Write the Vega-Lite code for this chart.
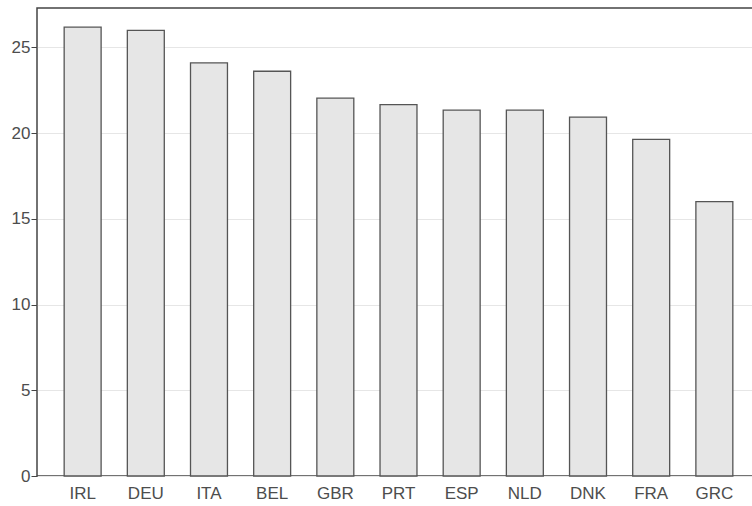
{
  "$schema": "https://vega.github.io/schema/vega-lite/v6.json",
  "autosize": "none",
  "padding": {"left": 37, "top": 8, "right": 0, "bottom": 30},
  "width": 723,
  "height": 468,
  "background": "white",
  "config": {
    "view": {"stroke": "#444444", "strokeWidth": 1.5},
    "font": "Liberation Sans"
  },
  "data": {
    "values": [
      {"country": "IRL", "value": 26.18},
      {"country": "DEU", "value": 26.0},
      {"country": "ITA", "value": 24.1},
      {"country": "BEL", "value": 23.61},
      {"country": "GBR", "value": 22.04},
      {"country": "PRT", "value": 21.66},
      {"country": "ESP", "value": 21.34},
      {"country": "NLD", "value": 21.34},
      {"country": "DNK", "value": 20.93},
      {"country": "FRA", "value": 19.64},
      {"country": "GRC", "value": 16.0}
    ]
  },
  "mark": {"type": "bar", "fill": "#e6e6e6", "stroke": "#555555", "strokeWidth": 1.3},
  "encoding": {
    "x": {
      "field": "country",
      "type": "nominal",
      "sort": null,
      "scale": {"paddingInner": 0.415, "paddingOuter": 0.43},
      "axis": {
        "title": null,
        "labelAngle": 0,
        "ticks": false,
        "domain": false,
        "labelFontSize": 17,
        "labelColor": "#4d4d4d",
        "labelPadding": 9,
        "labelFont": "Liberation Sans"
      }
    },
    "y": {
      "field": "value",
      "type": "quantitative",
      "scale": {"domain": [0, 27.3], "nice": false, "zero": true},
      "axis": {
        "title": null,
        "values": [0, 5, 10, 15, 20, 25],
        "grid": true,
        "gridColor": "#e6e6e6",
        "gridWidth": 1,
        "domain": false,
        "ticks": true,
        "tickSize": 6,
        "tickColor": "#444444",
        "tickWidth": 1,
        "labelFontSize": 17,
        "labelColor": "#4d4d4d",
        "labelPadding": 1,
        "labelFont": "Liberation Sans"
      }
    }
  }
}
